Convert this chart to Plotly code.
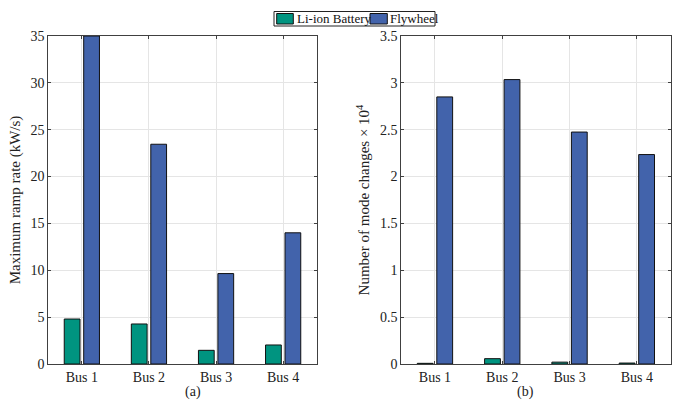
import plotly.graph_objects as go

# Data
buses = ["Bus 1", "Bus 2", "Bus 3", "Bus 4"]
ramp_liion = [4.8, 4.27, 1.46, 2.03]        # kW/s
ramp_flywheel = [35.0, 23.45, 9.65, 14.0]   # kW/s
modes_liion = [0.007, 0.057, 0.02, 0.01]    # x 10^4
modes_flywheel = [2.85, 3.035, 2.475, 2.235]  # x 10^4
series_names = ["Li-ion Battery", "Flywheel"]

GREEN = "#009480"
BLUE = "#4263AB"
FONT = "Times New Roman, Liberation Serif, Times, serif"
W, H = 677, 400

fig = go.Figure()

def add_pair(xa, ya, liion, fly):
    for name, vals, col in ((series_names[0], liion, GREEN), (series_names[1], fly, BLUE)):
        fig.add_trace(go.Bar(
            x=buses, y=vals, name=name, xaxis=xa, yaxis=ya,
            marker=dict(color=col, line=dict(color="#111111", width=1)),
            showlegend=False,
        ))

add_pair("x", "y", ramp_liion, ramp_flywheel)
add_pair("x2", "y2", modes_liion, modes_flywheel)

y0, y1 = 1 - 364 / H, 1 - 36 / H
axis_common = dict(
    showline=True, linecolor="#404040", linewidth=1, mirror="ticks",
    ticks="inside", ticklen=3, tickcolor="#404040",
    showgrid=True, gridcolor="#e5e5e5", gridwidth=1, zeroline=False,
    tickfont=dict(family=FONT, size=14, color="#222222"),
    automargin=False,
)

fig.update_layout(
    width=W, height=H,
    margin=dict(l=0, r=0, t=0, b=0, pad=0, autoexpand=False),
    paper_bgcolor="white", plot_bgcolor="white",
    barmode="group", bargap=0.42, bargroupgap=0.19,
    font=dict(family=FONT, size=14, color="#222222"),
    showlegend=False,
    xaxis=dict(domain=[48.3 / W, 316.7 / W], anchor="y", range=[-0.5, 3.5], **axis_common),
    xaxis2=dict(domain=[401.3 / W, 670.5 / W], anchor="y2", range=[-0.5, 3.5], **axis_common),
    yaxis=dict(domain=[y0, y1], anchor="x", range=[0, 35], dtick=5,
               title=dict(text="Maximum ramp rate (kW/s)", standoff=6,
                          font=dict(family=FONT, size=15, color="#222222")),
               **axis_common),
    yaxis2=dict(domain=[y0, y1], anchor="x2", range=[0, 3.5], dtick=0.5,
                title=dict(text="Number of mode changes \u00d7 10<sup>4</sup>", standoff=6,
                           font=dict(family=FONT, size=15, color="#222222")),
                **axis_common),
)

# Panel captions
for txt, xc in (("(a)", 182.5), ("(b)", 536)):
    fig.add_annotation(text=txt, x=xc / W, y=1 - 392 / H, xref="paper", yref="paper",
                       yanchor="middle", showarrow=False,
                       font=dict(family=FONT, size=14, color="#222222"))

# Shared legend box on top
def px(x):
    return x / W

def py(y):
    return 1 - y / H

fig.add_shape(type="rect", xref="paper", yref="paper",
              x0=px(274), x1=px(435), y0=py(26), y1=py(11.5),
              line=dict(color="#222222", width=1), fillcolor="white")
for (sx0, sx1, tx), name, col in zip(((276.7, 293.3, 294.5), (370, 387.3, 388.5)), series_names, (GREEN, BLUE)):
    fig.add_shape(type="rect", xref="paper", yref="paper",
                  x0=px(sx0), x1=px(sx1), y0=py(24), y1=py(13.5),
                  line=dict(color="#111111", width=1), fillcolor=col)
    fig.add_annotation(text=name, x=px(tx), y=py(18.8), xref="paper", yref="paper",
                       xanchor="left", yanchor="middle", showarrow=False,
                       font=dict(family=FONT, size=13, color="#111111"))

fig.write_html("out.html")
